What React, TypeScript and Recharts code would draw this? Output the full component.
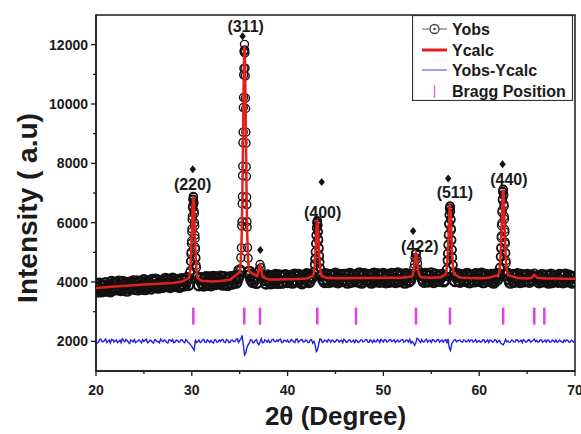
import { ComposedChart, Label, Legend, Line, ReferenceArea, Scatter, XAxis, YAxis } from "recharts";

const FONT = "'Liberation Sans', Arial, Helvetica, sans-serif";
const INK = "#1b1b1b";
const RED = "#e3211c";
const BLUE = "#1f1fe6";
const PINK = "#e23fe0";

// background scan: readings at x.00/.25/.50/.75 and the in-between x.125/.375/.625/.875
const SCAN_START = 20;
const SCAN_STEP = 0.25;
const MID_START = 20.125;

// Yobs on the 20.00, 20.25 ... 70.00 grid (null where a dense peak scan takes over)
const bgObs = [
  3920, 3690, 3850, 3740, 3950, 3760, 3700, 3900, 3960, 3760, 3830, 3990,
  3790, 3720, 3960, 3870, 3780, 4010, 3850, 3790, 4050, 3830, 3960, 3790,
  3880, 4070, 3820, 4000, 3850, 4090, 3930, 3840, 4100, 3880, 4000, 3850,
  4080, 3900, 4120, null, null, null, null, 3900, 4120, 3890, 4150, 3950,
  3900, 4160, 3980, 4090, 4170, 3920, 4060, 3910, 4150, 3960, 4180, 4120,
  4380, null, null, null, 4330, 4080, 4120, 3980, null, null, 4170, 3960,
  4200, 3970, 4110, 4230, 3980, 4150, 4000, 4220, 4010, 4190, 3990, 4240,
  4030, 4200, 3970, 4150, 4250, 4010, 4180, null, null, null, null, 4090,
  4250, 4010, 4190, 4060, 4270, 4000, 4220, 4080, 4230, 3990, 4260, 4040,
  4200, 4030, 4280, 3990, 4250, 4060, 4210, 3990, 4270, 4030, 4180, 4040,
  4260, 4000, 4230, 4070, 4190, 4010, 4280, 4050, 4240, 3990, 4210, 4060,
  null, null, null, null, 4250, 4020, 4200, 4040, 4280, 4010, 4230, 4060,
  4200, 4030, null, null, null, null, 4040, 4250, 4020, 4220, 4050, 4260,
  4000, 4190, 4030, 4240, 4050, 4270, 4010, 4200, 4060, 4230, 3990, 4180,
  4260, null, null, null, 4240, 3990, 4230, 4040, 4250, 4010, 4190, 4060,
  4230, 4020, null, null, null, 4000, 4220, 4030, 4200, 3990, 4240, 4050,
  4180, 4020, 4210, 4000, 4240, 4030, 4160, 3990, 4150,
];

// Yobs on the 20.125, 20.375 ... 69.875 grid
const bgObsMid = [
  3780, 3930, 3700, 3860, 3720, 3840, 3990, 3770, 3880, 4000, 3740, 3900,
  3960, 3800, 3870, 4010, 3920, 3760, 3990, 3880, 3770, 4000, 3880, 4060,
  3990, 3840, 3940, 3860, 4020, 3880, 4060, 3900, 3920, 4060, 3860, 4080,
  3930, 4040, 3910, null, null, null, null, 4090, 3970, 4100, 3920, 4140,
  4050, 3940, 4140, 3960, 4010, 4150, 3950, 4100, 3980, 4110, 3990, 4210,
  null, null, null, null, 4230, 4010, 4180, null, null, null, 4080, 4200,
  4060, 4180, 3990, 4100, 4210, 3990, 4180, 4050, 4140, 4020, 4210, 4060,
  4230, 4090, 4010, 4210, 4080, 4200, null, null, null, null, 4230, 4010,
  4100, 4220, 4030, 4200, 4090, 4160, 4040, 4230, 4080, 4190, 4020, 4220,
  4110, 4240, 4010, 4180, 4080, 4230, 4040, 4170, 4100, 4250, 4020, 4190,
  4110, 4210, 4020, 4260, 4090, 4240, 4030, 4170, 4100, 4250, 4030, 4180,
  null, null, null, null, 4110, 4260, 4030, 4190, 4100, 4240, 4050, 4170,
  4230, 4060, null, null, null, null, 4180, 4070, 4190, 4080, 4240, 4020,
  4170, 4060, 4250, 4090, 4180, 4010, 4230, 4090, 4170, 4030, 4240, 4100,
  null, null, null, null, 4100, 4210, 4020, 4170, 4090, 4230, 4030, 4180,
  4070, 4200, null, null, 4180, 4060, 4210, 4090, 4060, 4200, 4010, 4170,
  4090, 4230, 4040, 4180, 4070, 4200, 4020, 4160,
];

// Yobs-Ycalc (drawn around 2000) on the 20.00 ... 70.00 grid
const diffObs = [
  2015, 1965, 2075, 1985, 2080, 2000, 1945, 2055, 2015, 1955, 2040, 2085,
  1980, 2030, 1930, 2020, 2060, 1985, 2045, 1950, 2000, 2070, 1970, 2030,
  1940, 2045, 1995, 2075, 1985, 2020, 1940, 2045, 2060, 1970, 2030, 1985,
  2045, 1955, 2020, 1935, 1830, 1700, 1955, 2045, 1985, 2060, 1965, 2020,
  2030, 1945, 2045, 1985, 2000, 2060, 1955, 2030, 1970, 2045, 1995, 2080,
  2030, 2200, 1540, 1790, 1935, 2045, 1970, 2060, 1890, 2090, 1960, 2020,
  2045, 1970, 2060, 1985, 2000, 2070, 1965, 2035, 2045, 1985, 2035, 1955,
  2080, 2010, 2060, 1985, 2030, 1965, 2060, 2000, 1660, 1920, 2070, 1980,
  2020, 2060, 1970, 2030, 1985, 2045, 2015, 1955, 2030, 1980, 2045, 2000,
  1955, 2020, 1985, 2045, 2000, 2060, 1965, 2020, 2045, 1985, 2030, 2070,
  1980, 2045, 2000, 2060, 2015, 1965, 2045, 2000, 2060, 1985, 2030, 2070,
  2000, 1860, 2100, 2015, 2060, 1980, 2070, 2015, 1965, 2045, 2000, 2060,
  2015, 1970, 2060, 2080, 1690, 1985, 2060, 2015, 2045, 1970, 2030, 2000,
  1985, 2045, 2015, 1965, 2030, 1985, 2045, 2000, 1965, 2030, 1985, 2045,
  2000, 1935, 1880, 2060, 2015, 1970, 2030, 1985, 2045, 2000, 1960, 2015,
  1985, 2045, 2000, 2075, 2030, 1985, 2045, 2000, 1970, 2030, 1985, 2015,
  2045, 1985, 2015, 1960, 2000, 2030, 1970, 2015, 1985,
];

// Yobs-Ycalc on the 20.125 ... 69.875 grid
const diffMid = [
  1940, 2060, 1990, 2030, 1960, 2040, 2070, 1975, 2050, 1990, 1950, 2030,
  2065, 1970, 2045, 1980, 1955, 2020, 2000, 2060, 2040, 1950, 2035, 1970,
  2060, 1985, 1950, 2020, 2045, 1960, 2050, 2000, 1950, 2040, 1970, 2050,
  1985, 2060, 1960, 1880, 1760, 2060, 1990, 1960, 2040, 1970, 2050, 1960,
  1980, 2050, 1965, 2040, 2050, 1970, 2060, 1955, 2040, 1985, 2065, 1960,
  2080, 1900, 1600, 1880, 2060, 1950, 2030, 1940, 1980, 1950, 2050, 1975,
  1960, 2060, 1990, 2040, 2055, 1960, 2040, 1990, 1970, 2060, 1990, 2070,
  1970, 2050, 1980, 2045, 1960, 2050, 1940, 1870, 1720, 2080, 1960, 2045,
  1975, 2030, 2045, 1970, 2060, 1975, 2040, 2070, 1965, 2045, 1975, 2040,
  2050, 1960, 2045, 1975, 2055, 1975, 2050, 1960, 1985, 2060, 1960, 2030,
  2060, 1970, 2050, 1990, 2050, 2000, 1975, 2050, 1970, 2040, 1980, 1940,
  1950, 1940, 2080, 1965, 1985, 2045, 1970, 2040, 2050, 1980, 2055, 1970,
  2045, 2030, 1955, 1780, 1900, 2045, 1980, 2030, 1985, 2050, 1975, 2055,
  2040, 1975, 2060, 2000, 1970, 2050, 1960, 2045, 2040, 1970, 2050, 1960,
  2030, 1910, 1950, 1985, 1965, 2045, 1975, 2050, 1980, 2040, 2060, 1970,
  2050, 1970, 2040, 1990, 1970, 2050, 1970, 2040, 2040, 1965, 2045, 1970,
  1975, 2040, 1980, 2050, 2045, 1975, 2040, 1965,
];

// Ycalc background, one value per degree from 20 to 70 (null inside peaks)
const bgCalc = [
  3800, 3825, 3850, 3872, 3893, 3912, 3930, 3948, 3965, 4015,
  null, 4045, 4020, 4030, 4075, 4340, 4350, null, 4086, 4082,
  4090, 4098, 4120, null, 4140, 4124, 4129, 4133, 4136, 4138,
  4140, 4140, 4144, null, 4161, 4140, 4163, null, 4154, 4132,
  4130, 4141, 4236, 4234, 4135, 4120, null, 4116, 4114, 4112,
  4110,
];

// strong reflections, scanned densely around each centre
const peakCenters = [30.16, 35.5, 43.1, 56.95, 62.5];
const peakOffsets = [
  -0.45, -0.38, -0.32, -0.28, -0.26, -0.24, -0.22, -0.2, -0.18, -0.16, -0.14, -0.12,
  -0.1, -0.08, -0.06, -0.04, -0.02, 0, 0.02, 0.04, 0.06, 0.08, 0.1, 0.12, 0.14, 0.16,
  0.18, 0.2, 0.22, 0.24, 0.26, 0.28, 0.32, 0.38, 0.45,
];

const obs220 = [4060, 4310, 4380, 4700, 4690, 4950, 5010, 5300, 5380, 5690, 5790, 6110, 6210, 6500, 6570, 6790, 6770, 6880, 6860, 6700, 6650, 6400, 6300, 6000, 5890, 5580, 5470, 5170, 5100, 4830, 4800, 4560, 4480, 4190, 4200];
const obs311 = [4380, 4820, 5150, 5890, 6030, 6640, 6880, 7590, 7900, 8700, 9050, 9880, 10220, 10980, 11200, 11760, 11800, 12010, 11820, 11720, 11210, 10950, 10200, 9850, 9050, 8680, 7880, 7560, 6860, 6610, 6030, 5850, 5160, 4800, 4390];
const obs400 = [4120, 4350, 4330, 4610, 4560, 4790, 4760, 5010, 5020, 5280, 5300, 5560, 5590, 5820, 5830, 6010, 5980, 6070, 6040, 5920, 5910, 5710, 5680, 5450, 5400, 5160, 5120, 4890, 4870, 4650, 4680, 4470, 4460, 4210, 4270];
const obs511 = [4180, 4420, 4430, 4740, 4700, 4960, 4950, 5240, 5270, 5580, 5610, 5940, 5980, 6260, 6280, 6490, 6470, 6560, 6540, 6400, 6380, 6130, 6090, 5800, 5750, 5430, 5400, 5100, 5080, 4820, 4830, 4590, 4560, 4290, 4310];
const obs440 = [4200, 4460, 4500, 4860, 4840, 5130, 5160, 5490, 5550, 5900, 5980, 6350, 6420, 6760, 6800, 7050, 7030, 7130, 7110, 6950, 6920, 6630, 6550, 6210, 6120, 5770, 5680, 5350, 5290, 4990, 4970, 4720, 4640, 4330, 4340];

const calc220 = [4140, 4245, 4425, 4621, 4744, 4886, 5049, 5228, 5422, 5627, 5841, 6055, 6260, 6451, 6613, 6739, 6819, 6847, 6819, 6739, 6613, 6451, 6260, 6055, 5841, 5627, 5422, 5228, 5049, 4886, 4744, 4621, 4425, 4245, 4140];
const calc311 = [4445, 4737, 5235, 5780, 6120, 6515, 6965, 7463, 8000, 8569, 9161, 9754, 10323, 10852, 11302, 11650, 11871, 11950, 11871, 11650, 11302, 10852, 10323, 9754, 9161, 8569, 8000, 7463, 6965, 6515, 6120, 5780, 5235, 4737, 4445];
const calc400 = [4208, 4279, 4400, 4532, 4615, 4711, 4820, 4941, 5072, 5210, 5354, 5498, 5636, 5765, 5875, 5959, 6013, 6032, 6013, 5959, 5875, 5765, 5636, 5498, 5354, 5210, 5072, 4941, 4820, 4711, 4615, 4532, 4400, 4279, 4208];
const calc511 = [4257, 4345, 4496, 4660, 4763, 4883, 5019, 5169, 5332, 5504, 5683, 5863, 6035, 6195, 6331, 6436, 6503, 6527, 6503, 6436, 6331, 6195, 6035, 5863, 5683, 5504, 5332, 5169, 5019, 4883, 4763, 4660, 4496, 4345, 4257];
const calc440 = [4275, 4385, 4573, 4779, 4907, 5056, 5226, 5413, 5616, 5831, 6054, 6278, 6492, 6692, 6862, 6993, 7076, 7106, 7076, 6993, 6862, 6692, 6492, 6278, 6054, 5831, 5616, 5413, 5226, 5056, 4907, 4779, 4573, 4385, 4275];

const peakObs = [obs220, obs311, obs400, obs511, obs440];
const peakCalc = [calc220, calc311, calc400, calc511, calc440];

// (422) is short, so its scan is coarser
const center422 = 53.4;
const offsets422 = [-0.45, -0.36, -0.28, -0.22, -0.16, -0.1, -0.04, 0, 0.04, 0.1, 0.16, 0.22, 0.28, 0.36, 0.45];
const obs422 = [4150, 4250, 4300, 4470, 4600, 4820, 4950, 4990, 4960, 4780, 4630, 4430, 4340, 4210, 4200];
const calc422 = [4182, 4226, 4322, 4446, 4615, 4799, 4938, 4970, 4938, 4799, 4615, 4446, 4322, 4226, 4182];

// two weak reflections
const minorCenters = [37.12, 65.75];
const minorOffsets = [-0.3, -0.2, -0.1, 0, 0.1, 0.2, 0.3];
const minorObs = [
  [4150, 4330, 4420, 4590, 4480, 4230, 4200],
  [4060, 4250, 4180, 4300, 4170, 4230, 4080],
];
const minorCalc = [
  [4195, 4300, 4465, 4560, 4458, 4282, 4162],
  [4141, 4171, 4214, 4239, 4214, 4171, 4141],
];

const braggPositions = [30.16, 35.48, 37.12, 43.1, 47.14, 53.4, 56.95, 62.5, 65.75, 66.8];
const BRAGG_LEVEL = 2850;

const hklText = ["(220)", "(311)", "(400)", "(422)", "(511)", "(440)"];
const hklTheta = [30.08, 35.62, 43.66, 53.8, 57.46, 63.1];
const hklY = [7300, 12620, 6350, 5200, 7020, 7460];

// black diamonds above the peaks
const markTheta = [30.1, 35.3, 37.15, 43.56, 53.1, 56.76, 62.44];
const markY = [7800, 12280, 5080, 7370, 5720, 7490, 7970];

const xTicks = [20, 25, 30, 35, 40, 45, 50, 55, 60, 65, 70];
const yTicks = [2000, 3000, 4000, 5000, 6000, 7000, 8000, 9000, 10000, 11000, 12000];

type Pt = { x: number; y: number };
const round3 = (v: number) => Math.round(v * 1000) / 1000;
const byTheta = (a: Pt, b: Pt) => a.x - b.x;
const onGrid = (vals: (number | null)[], start: number, step: number): Pt[] =>
  vals.flatMap((y, i) => (y === null ? [] : [{ x: round3(start + i * step), y }]));
const aroundPeak = (center: number, offsets: number[], vals: number[]): Pt[] =>
  offsets.map((d, j) => ({ x: round3(center + d), y: vals[j] }));

// Yobs split in two so the flat background can be drawn as a dense band
const obsBgData = [...onGrid(bgObs, SCAN_START, SCAN_STEP), ...onGrid(bgObsMid, MID_START, SCAN_STEP)].sort(byTheta);
const obsPeakData = [
  ...peakCenters.flatMap((c, p) => aroundPeak(c, peakOffsets, peakObs[p])),
  ...aroundPeak(center422, offsets422, obs422),
  ...minorCenters.flatMap((c, p) => aroundPeak(c, minorOffsets, minorObs[p])),
].sort(byTheta);

const calcData = [
  ...onGrid(bgCalc, SCAN_START, 1),
  ...peakCenters.flatMap((c, p) => aroundPeak(c, peakOffsets, peakCalc[p])),
  ...aroundPeak(center422, offsets422, calc422),
  ...minorCenters.flatMap((c, p) => aroundPeak(c, minorOffsets, minorCalc[p])),
].sort(byTheta);

const diffData = [...onGrid(diffObs, SCAN_START, SCAN_STEP), ...onGrid(diffMid, MID_START, SCAN_STEP)].sort(byTheta);
const braggData = braggPositions.map((x) => ({ x, y: BRAGG_LEVEL }));
const hklData = hklText.map((label, i) => ({ x: hklTheta[i], y: hklY[i], label }));
const markData = markTheta.map((x, i) => ({ x, y: markY[i] }));

function XTick({ x, y, payload }: any) {
  const major = payload.value % 10 === 0;
  return (
    <g>
      <line x1={x} x2={x} y1={y} y2={y + (major ? 5 : 3)} stroke={INK} strokeWidth={1.3} />
      {major && (
        <text x={x} y={y + 24} textAnchor="middle" fontSize={14} fontWeight="bold" fill={INK} fontFamily={FONT}>
          {payload.value}
        </text>
      )}
    </g>
  );
}

function YTick({ x, y, payload }: any) {
  const major = payload.value % 2000 === 0;
  return (
    <g>
      <line x1={x - (major ? 5 : 3)} x2={x} y1={y} y2={y} stroke={INK} strokeWidth={1.3} />
      {major && (
        <text x={x - 8} y={y} dy="0.36em" textAnchor="end" fontSize={14} fontWeight="bold" fill={INK} fontFamily={FONT}>
          {payload.value}
        </text>
      )}
    </g>
  );
}

function XTitle({ viewBox }: any) {
  const cx = viewBox.x + viewBox.width / 2;
  return (
    <text x={cx} y={viewBox.y + 54} textAnchor="middle" fontSize={26} fontWeight="bold" fill={INK} fontFamily={FONT}>
      2θ (Degree)
    </text>
  );
}

function YTitle({ viewBox }: any) {
  const cx = viewBox.x + 27;
  const cy = viewBox.y + viewBox.height / 2 + 15;
  return (
    <text
      x={cx}
      y={cy}
      transform={`rotate(-90 ${cx} ${cy})`}
      textAnchor="middle"
      dominantBaseline="central"
      fontSize={28}
      fontWeight="bold"
      fill={INK}
      fontFamily={FONT}
    >
      Intensity ( a.u)
    </text>
  );
}

function BraggTick({ cx, cy }: any) {
  return <line x1={cx} x2={cx} y1={cy - 8.5} y2={cy + 8.5} stroke={PINK} strokeWidth={2.5} />;
}

function Diamond({ cx, cy }: any) {
  return <polygon points={`${cx},${cy - 4} ${cx + 3.2},${cy} ${cx},${cy + 4} ${cx - 3.2},${cy}`} fill="#111" />;
}

function HklText({ cx, cy, payload }: any) {
  return (
    <text x={cx} y={cy} dy="0.36em" textAnchor="middle" fontSize={16} fontWeight="bold" fill={INK} fontFamily={FONT}>
      {payload.label}
    </text>
  );
}

function LegendBox() {
  const rows = [14, 35, 55, 76];
  const text = { fontSize: 16, fontWeight: "bold" as const, fill: INK, fontFamily: FONT };
  return (
    <svg width={162} height={86} style={{ display: "block" }}>
      <rect x={0.5} y={0.5} width={160} height={85} fill="#fff" stroke="#333" strokeWidth={1.2} />
      <line x1={10} x2={35} y1={rows[0]} y2={rows[0]} stroke="#777" strokeWidth={1.2} />
      <circle cx={22.5} cy={rows[0]} r={4.5} fill="#fff" stroke="#444" strokeWidth={1.3} />
      <circle cx={22.5} cy={rows[0]} r={1.2} fill="#444" />
      <line x1={10} x2={35} y1={rows[1]} y2={rows[1]} stroke={RED} strokeWidth={3} />
      <line x1={10} x2={35} y1={rows[2]} y2={rows[2]} stroke="#6b6bef" strokeWidth={1.3} />
      <line x1={22.5} x2={22.5} y1={rows[3] - 6} y2={rows[3] + 7} stroke="#e070e0" strokeWidth={1.5} />
      {["Yobs", "Ycalc", "Yobs-Ycalc", "Bragg Position"].map((t, i) => (
        <text key={t} x={40} y={rows[i]} dy="0.36em" {...text}>
          {t}
        </text>
      ))}
    </svg>
  );
}

export default function App() {
  return (
    <div style={{ position: "absolute", left: 0, top: 0, width: 581, height: 434, background: "#fff" }}>
      <ComposedChart width={581} height={434} margin={{ top: 15, right: 6, bottom: 0, left: 0 }}>
        <XAxis
          type="number"
          dataKey="x"
          domain={[20, 70]}
          ticks={xTicks}
          interval={0}
          allowDataOverflow
          height={63}
          tickSize={0}
          tickMargin={0}
          tickLine={false}
          axisLine={{ stroke: INK, strokeWidth: 1.5 }}
          tick={XTick}
        >
          <Label content={XTitle} />
        </XAxis>
        <YAxis
          type="number"
          domain={[1000, 13000]}
          ticks={yTicks}
          interval={0}
          allowDataOverflow
          width={96}
          tickSize={0}
          tickMargin={0}
          tickLine={false}
          axisLine={{ stroke: INK, strokeWidth: 1.5 }}
          tick={YTick}
        >
          <Label content={YTitle} />
        </YAxis>
        <ReferenceArea x1={20} x2={70} y1={1000} y2={13000} fill="none" stroke={INK} strokeWidth={1.5} />
        <Line
          data={obsBgData}
          dataKey="y"
          stroke="none"
          strokeWidth={0}
          dot={{ r: 5.3, fill: "none", stroke: "#111", strokeWidth: 2.4 }}
          activeDot={false}
          isAnimationActive={false}
        />
        <Line
          data={obsPeakData}
          dataKey="y"
          stroke="none"
          strokeWidth={0}
          dot={{ r: 4, fill: "none", stroke: "#111", strokeWidth: 1.4 }}
          activeDot={false}
          isAnimationActive={false}
        />
        <Line
          data={calcData}
          dataKey="y"
          type="linear"
          stroke={RED}
          strokeWidth={2.5}
          dot={false}
          activeDot={false}
          isAnimationActive={false}
          zIndex={650}
        />
        <Line
          data={diffData}
          dataKey="y"
          type="linear"
          stroke={BLUE}
          strokeWidth={1.4}
          dot={false}
          activeDot={false}
          isAnimationActive={false}
          zIndex={650}
        />
        <Scatter data={braggData} dataKey="y" shape={BraggTick} isAnimationActive={false} />
        <Scatter data={markData} dataKey="y" shape={Diamond} isAnimationActive={false} />
        <Scatter data={hklData} dataKey="y" shape={HklText} isAnimationActive={false} />
        <Legend
          layout="vertical"
          align="center"
          verticalAlign="middle"
          wrapperStyle={{ left: 412, top: 15, width: 162, height: 86 }}
          content={LegendBox}
        />
      </ComposedChart>
    </div>
  );
}
